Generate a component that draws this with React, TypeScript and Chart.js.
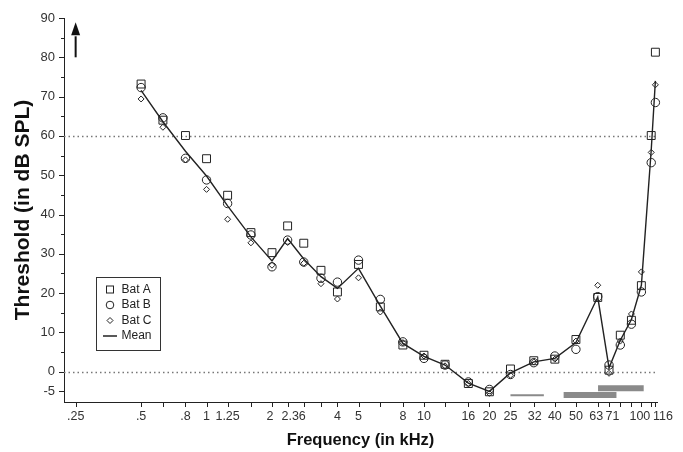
import React, { useEffect, useRef } from "react";
import { Chart, registerables } from "chart.js";

Chart.register(...registerables);

const freqs = [0.5, 0.63, 0.8, 1, 1.25, 1.6, 2, 2.36, 2.8, 3.36, 4, 5, 6.3, 8, 10, 12.5, 16, 20, 25, 32, 40, 50, 63, 71, 80, 90, 100, 111, 116];
const batA = [73.2, 64.0, 60.1, 54.2, 44.9, 35.4, 30.3, 37.1, 32.7, 25.8, 20.3, 27.3, 16.5, 6.8, 4.2, 1.9, -3.0, -5.1, 0.7, 2.8, 3.2, 8.2, 18.9, 0.4, 9.3, 13.1, 21.9, 60.1, 81.3];
const batB = [72.3, 64.6, 54.3, 48.8, 42.8, 34.8, 26.7, 33.5, 27.9, 23.8, 22.8, 28.4, 18.4, 7.6, 3.4, 1.7, -2.6, -4.5, -0.7, 2.3, 4.0, 5.7, 19.1, 1.7, 6.8, 12.1, 20.3, 53.2, 68.5];
const batC = [69.4, 62.2, 53.9, 46.4, 38.8, 32.8, 27.1, 32.9, 27.6, 22.4, 18.5, 23.9, 15.2, 7.4, 4.0, 1.5, -3.0, -5.5, -0.9, 2.5, 3.2, 7.8, 22.0, -0.4, 7.8, 14.7, 25.4, 55.8, 73.0];
const meanVals = [71.6, 63.6, 56.1, 49.8, 42.2, 34.3, 28.2, 33.9, 28.7, 24.2, 21.2, 26.3, 16.7, 7.2, 3.9, 1.7, -2.9, -5.0, -0.3, 2.5, 3.4, 7.4, 19.0, 1.0, 8.0, 13.3, 22.0, 56.4, 74.0];

// gray range bars at the bottom: [xStart, xEnd], level
const thinBarX = [25, 35.6];
const thinBarY = -6.0;
const lowBarX = [43.9, 76.8];
const lowBarY = -5.9;
const highBarX = [63.2, 102.5];
const highBarY = -4.2;

const xTickVals = [0.25, 0.5, 0.63, 0.8, 1, 1.25, 1.6, 2, 2.36, 2.8, 3.36, 4, 5, 6.3, 8, 10, 12.5, 16, 20, 25, 32, 40, 50, 63, 71, 80, 90, 100, 111, 116];
const xTickLabels = [".25", ".5", "", ".8", "1", "1.25", "", "2", "2.36", "", "", "4", "5", "", "8", "10", "", "16", "20", "25", "32", "40", "50", "63", "71", "", "", "100", "", "116"];
const yTickVals = [-5, 0, 5, 10, 15, 20, 25, 30, 35, 40, 45, 50, 55, 60, 65, 70, 75, 80, 85, 90];
const yTickLabels = ["-5", "0", "", "10", "", "20", "", "30", "", "40", "", "50", "", "60", "", "70", "", "80", "", "90"];
const refLines = [0, 60];

const FONT = "'Liberation Sans', Arial, Helvetica, sans-serif";
const INK = "#222";

// small horizontal nudges for crowded x labels (px)
const labelNudge: Record<string, number> = { "2": -2, "2.36": 6, "63": -1.5, "71": 3.5, "100": -1.5, "116": 7.5, "32": 1 };

const pts = (vals: number[]) => vals.map((v, i) => ({ x: freqs[i], y: v }));

const decorPlugin = {
  id: "decor",
  beforeDatasetsDraw(chart: any) {
    const { ctx, chartArea, scales } = chart;
    ctx.save();
    ctx.strokeStyle = "#777";
    ctx.lineWidth = 1.5;
    ctx.setLineDash([1.5, 3]);
    refLines.forEach((v) => {
      const y = Math.round(scales.y.getPixelForValue(v)) + 0.5;
      ctx.beginPath();
      ctx.moveTo(chartArea.left, y);
      ctx.lineTo(chartArea.right, y);
      ctx.stroke();
    });
    ctx.restore();
  },
  afterDraw(chart: any) {
    const { ctx, chartArea, scales } = chart;
    const xs = scales.x;
    const ys = scales.y;
    ctx.save();
    ctx.strokeStyle = INK;
    ctx.lineWidth = 1;
    // x ticks + labels
    ctx.fillStyle = "#333";
    ctx.font = `12.5px ${FONT}`;
    ctx.textAlign = "center";
    ctx.textBaseline = "middle";
    xTickVals.forEach((v, i) => {
      const px = Math.round(xs.getPixelForValue(v)) + 0.5;
      ctx.beginPath();
      ctx.moveTo(px, chartArea.bottom);
      ctx.lineTo(px, chartArea.bottom + 5);
      ctx.stroke();
      const lab = xTickLabels[i];
      if (lab) ctx.fillText(lab, xs.getPixelForValue(v) + (labelNudge[lab] || 0), chartArea.bottom + 15);
    });
    // y ticks
    yTickVals.forEach((v, i) => {
      const py = Math.round(ys.getPixelForValue(v)) + 0.5;
      const len = yTickLabels[i] ? 5 : 3;
      ctx.beginPath();
      ctx.moveTo(chartArea.left - len, py);
      ctx.lineTo(chartArea.left, py);
      ctx.stroke();
    });
    // arrow
    const ax = xs.getPixelForValue(0.25);
    const tail = ys.getPixelForValue(80);
    const tip = ys.getPixelForValue(88.9);
    const base = ys.getPixelForValue(85.6);
    ctx.fillStyle = "#111";
    ctx.lineWidth = 2;
    ctx.strokeStyle = "#111";
    ctx.beginPath();
    ctx.moveTo(ax, tail);
    ctx.lineTo(ax, base + 1);
    ctx.stroke();
    ctx.beginPath();
    ctx.moveTo(ax, tip);
    ctx.lineTo(ax - 4.5, base);
    ctx.lineTo(ax + 4.5, base);
    ctx.closePath();
    ctx.fill();
    // legend
    const bx = 96.5, by = 277.5, bw = 64, bh = 73;
    ctx.lineWidth = 1;
    ctx.strokeStyle = "#333";
    ctx.strokeRect(bx, by, bw, bh);
    const rows = [289.5, 305, 320.5, 336];
    const sx = 110;
    ctx.strokeStyle = INK;
    ctx.lineWidth = 1;
    ctx.strokeRect(sx - 3.5, rows[0] - 3.5, 7, 7);
    ctx.beginPath();
    ctx.arc(sx, rows[1], 3.8, 0, Math.PI * 2);
    ctx.stroke();
    ctx.beginPath();
    ctx.moveTo(sx, rows[2] - 3);
    ctx.lineTo(sx + 3, rows[2]);
    ctx.lineTo(sx, rows[2] + 3);
    ctx.lineTo(sx - 3, rows[2]);
    ctx.closePath();
    ctx.stroke();
    ctx.lineWidth = 1.5;
    ctx.beginPath();
    ctx.moveTo(103, rows[3]);
    ctx.lineTo(117, rows[3]);
    ctx.stroke();
    ctx.fillStyle = INK;
    ctx.font = `12px ${FONT}`;
    ctx.textBaseline = "middle";
    ctx.textAlign = "left";
    const names = chart.data.datasets.slice(0, 4).map((d: any) => d.label);
    names.forEach((n: string, i: number) => ctx.fillText(n, 121.5, rows[i]));
    ctx.restore();
  },
};

export default function App() {
  const ref = useRef<HTMLCanvasElement | null>(null);
  useEffect(() => {
    if (!ref.current) return;
    const markerBase = {
      type: "line" as const,
      showLine: false,
      clip: false as const,
      borderColor: INK,
      backgroundColor: "rgba(255,255,255,0)",
      pointBorderColor: INK,
      pointBackgroundColor: "rgba(255,255,255,0)",
      pointBorderWidth: 1,
    };
    const barBase = {
      type: "line" as const,
      borderColor: "#8a8a8a",
      pointRadius: 0,
      borderCapStyle: "butt" as const,
    };
    const chart = new Chart(ref.current, {
      type: "line",
      data: {
        datasets: [
          { ...markerBase, label: "Bat A", data: pts(batA), pointStyle: "rect", pointRadius: 5.6 },
          { ...markerBase, label: "Bat B", data: pts(batB), pointStyle: "circle", pointRadius: 4.2 },
          { ...markerBase, label: "Bat C", data: pts(batC), pointStyle: "rectRot", pointRadius: 3 },
          { type: "line", label: "Mean", data: pts(meanVals), clip: false, borderColor: INK, borderWidth: 1.4, pointRadius: 0, tension: 0 },
          { ...barBase, label: "range1", data: thinBarX.map((x) => ({ x, y: thinBarY })), borderWidth: 2 },
          { ...barBase, label: "range2", data: lowBarX.map((x) => ({ x, y: lowBarY })), borderWidth: 6 },
          { ...barBase, label: "range3", data: highBarX.map((x) => ({ x, y: highBarY })), borderWidth: 6 },
        ],
      },
      options: {
        responsive: false,
        animation: false,
        layout: { padding: { left: 0, top: 18, right: 26, bottom: 0 } },
        plugins: { legend: { display: false }, tooltip: { enabled: false } },
        scales: {
          x: {
            type: "logarithmic",
            min: 0.221,
            max: 118,
            grid: { display: false, drawTicks: false },
            border: { display: true, color: INK, width: 1 },
            afterBuildTicks: (s: any) => {
              s.ticks = xTickVals.map((v) => ({ value: v }));
            },
            afterFit: (s: any) => {
              s.height = 50;
            },
            ticks: { display: false, autoSkip: false },
            title: {
              display: true,
              text: "Frequency (in kHz)",
              color: "#111",
              font: { family: FONT, size: 16.5, weight: "bold" },
              padding: { top: 0, bottom: 2 },
            },
          },
          y: {
            type: "linear",
            min: -7.7,
            max: 90,
            grid: { display: false, drawTicks: false },
            border: { display: true, color: INK, width: 1 },
            afterBuildTicks: (s: any) => {
              s.ticks = yTickVals.map((v) => ({ value: v }));
            },
            afterFit: (s: any) => {
              s.width = 64;
            },
            ticks: {
              autoSkip: false,
              padding: 9,
              color: "#333",
              font: { family: FONT, size: 13 },
              callback: (_v: any, i: number) => yTickLabels[i],
            },
            title: {
              display: true,
              text: "Threshold (in dB SPL)",
              color: "#111",
              font: { family: FONT, size: 21, weight: "bold" },
              padding: { top: 10.4, bottom: 0 },
            },
          },
        },
      },
      plugins: [decorPlugin],
    });
    return () => chart.destroy();
  }, []);
  return (
    <div style={{ position: "absolute", left: 0, top: 0, width: 683, height: 452, background: "#fff" }}>
      <canvas ref={ref} width={683} height={452} />
    </div>
  );
}
